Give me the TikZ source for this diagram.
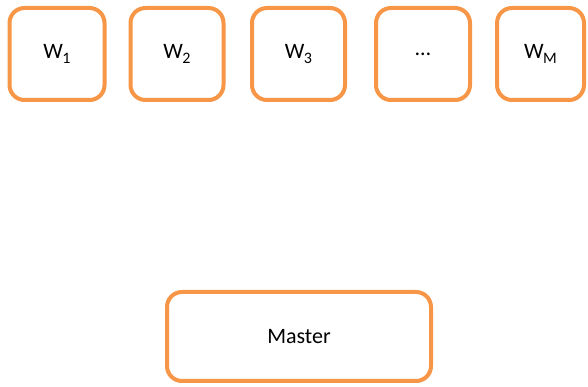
\documentclass[tikz,border=0pt]{standalone}
\usepackage{fontspec}
\setmainfont{Carlito}
\usetikzlibrary{shadows}
\definecolor{boxorange}{RGB}{247,150,70}
\newcommand{\mysub}[1]{\kern-0.5pt\raisebox{-0.2em}{\fontsize{16}{16}\selectfont #1}}
\tikzset{
  wbox/.style={draw=boxorange, line width=4pt, rounded corners=15pt, fill=white,
    minimum width=93pt, minimum height=92pt, inner sep=0pt,
    font=\fontsize{22}{26}\selectfont,
    drop shadow={opacity=0.18, shadow xshift=1pt, shadow yshift=-2pt}},
  mbox/.style={wbox, minimum width=264pt, minimum height=89pt}
}
\begin{document}
\begin{tikzpicture}[x=1pt,y=1pt]
\useasboundingbox (0,0) rectangle (588,387);
\node[wbox, minimum width=95pt] (w1) at (57,333) {W\mysub{1}};
\node[wbox] (w2) at (177,333) {W\mysub{2}};
\node[wbox] (w3) at (298.5,333) {W\mysub{3}};
\node[wbox, minimum width=94pt] (wd) at (423,333) {…};
\node[wbox, minimum width=87pt] (wm) at (540.5,333) {W\mysub{M}};
\node[mbox] (master) at (299,50.5) {Master};
\end{tikzpicture}
\end{document}
